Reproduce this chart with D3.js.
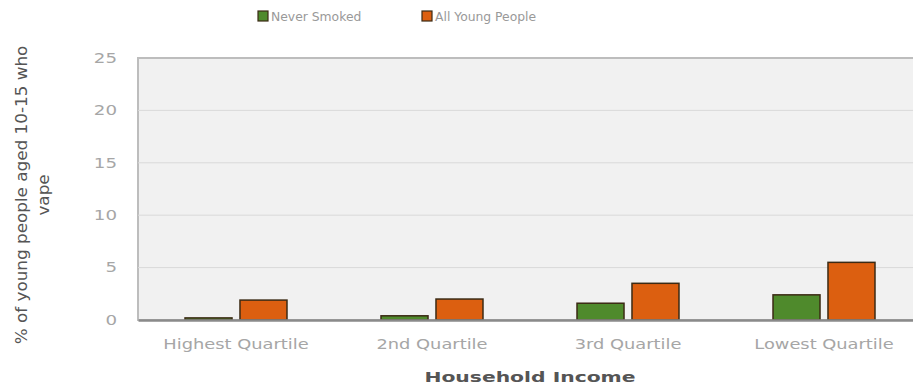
<!DOCTYPE html>
<html><head><meta charset="utf-8">
<script src="https://cdn.jsdelivr.net/npm/d3@7/dist/d3.min.js"></script>
<style>body{margin:0;background:#fff}svg{display:block}</style>
</head><body>
<script>
const categories = ["Highest Quartile", "2nd Quartile", "3rd Quartile", "Lowest Quartile"];
const seriesNames = ["Never Smoked", "All Young People"];
const neverSmoked = [0.2, 0.4, 1.6, 2.4];
const allYoung = [1.9, 2.0, 3.5, 5.5];
const yTicks = [0, 5, 10, 15, 20, 25];
const colors = ["#4f8a2c", "#dc5f10"];

const W = 913, H = 387;
const m = {left: 138, top: 58, right: -9, bottom: 67};
const svg = d3.select("body").append("svg").attr("width", W).attr("height", H);
const font = "'DejaVu Sans', Verdana, sans-serif";
const stretch = (sel, k) => sel.each(function () {
  const L = this.getComputedTextLength();
  d3.select(this).attr("textLength", L * k).attr("lengthAdjust", "spacingAndGlyphs");
});

const x = d3.scaleBand().domain(categories).range([m.left, W - m.right]).paddingInner(0).paddingOuter(0);
const y = d3.scaleLinear().domain([0, 25]).range([H - m.bottom, m.top]);

svg.append("rect").attr("x", m.left).attr("y", m.top).attr("width", W - m.right - m.left).attr("height", y(0) - m.top)
  .attr("fill", "#f1f1f1").attr("stroke", "#bdbdbd").attr("stroke-width", 2);

// grid
svg.append("g").selectAll("line").data(yTicks.filter(d => d > 0 && d < 25)).join("line")
  .attr("x1", m.left).attr("x2", W - m.right).attr("y1", d => y(d)).attr("y2", d => y(d))
  .attr("stroke", "#d9d9d9").attr("stroke-width", 1);

// y axis labels
const yAxis = d3.axisLeft(y).tickValues(yTicks).tickSize(0).tickPadding(21);
const gy = svg.append("g").attr("transform", `translate(${m.left},0)`).call(yAxis);
gy.select(".domain").remove();
gy.selectAll("text").attr("font-family", font).attr("font-size", 13.5).attr("fill", "#a6a6a6").call(stretch, 1.35);

// bars
const x1 = d3.scaleBand().domain(seriesNames).range([0, x.bandwidth()]).paddingInner(0.145).paddingOuter(0.855);
const data = categories.map((c, i) => ({c, v: [neverSmoked[i], allYoung[i]]}));
const g = svg.append("g").selectAll("g").data(data).join("g").attr("transform", d => `translate(${x(d.c)},0)`);
g.selectAll("rect").data(d => d.v.map((v, j) => ({v, s: seriesNames[j], j}))).join("rect")
  .attr("x", d => x1(d.s)).attr("width", x1.bandwidth())
  .attr("y", d => y(d.v)).attr("height", d => y(0) - y(d.v))
  .attr("fill", d => colors[d.j]).attr("stroke", "#3b2a14").attr("stroke-width", 1.5);

// x axis
const xAxis = d3.axisBottom(x).tickSize(0).tickPadding(19);
const gx = svg.append("g").attr("transform", `translate(0,${y(0)})`).call(xAxis);
gx.select(".domain").attr("stroke", "#8a8a8a").attr("stroke-width", 2.5);
gx.selectAll("text").attr("font-family", font).attr("font-size", 13.5).attr("fill", "#a6a6a6").call(stretch, 1.32);

// axis titles
svg.append("text").attr("x", 530).attr("y", 382).attr("text-anchor", "middle")
  .attr("font-family", font).attr("font-size", 14).attr("font-weight", "bold").attr("fill", "#555")
  .text("Household Income").call(stretch, 1.45);
const yt = svg.append("text").attr("transform", "translate(27,195) rotate(-90)").attr("text-anchor", "middle")
  .attr("font-family", font).attr("font-size", 15).attr("fill", "#555");
yt.append("tspan").attr("x", 0).attr("dy", 0).text("% of young people aged 10-15 who").call(stretch, 1.12);
yt.append("tspan").attr("x", 0).attr("dy", 22).text("vape").call(stretch, 1.12);

// legend
const legend = [{x: 258, name: seriesNames[0], c: colors[0]}, {x: 422, name: seriesNames[1], c: colors[1]}];
const lg = svg.append("g").selectAll("g").data(legend).join("g").attr("transform", d => `translate(${d.x},11)`);
lg.append("rect").attr("width", 10).attr("height", 10).attr("fill", d => d.c).attr("stroke", "#3b2a14").attr("stroke-width", 1.2);
lg.append("text").attr("x", 13).attr("y", 10).attr("font-family", font).attr("font-size", 13).attr("fill", "#999").text(d => d.name).call(stretch, 0.95);
</script>
</body></html>
